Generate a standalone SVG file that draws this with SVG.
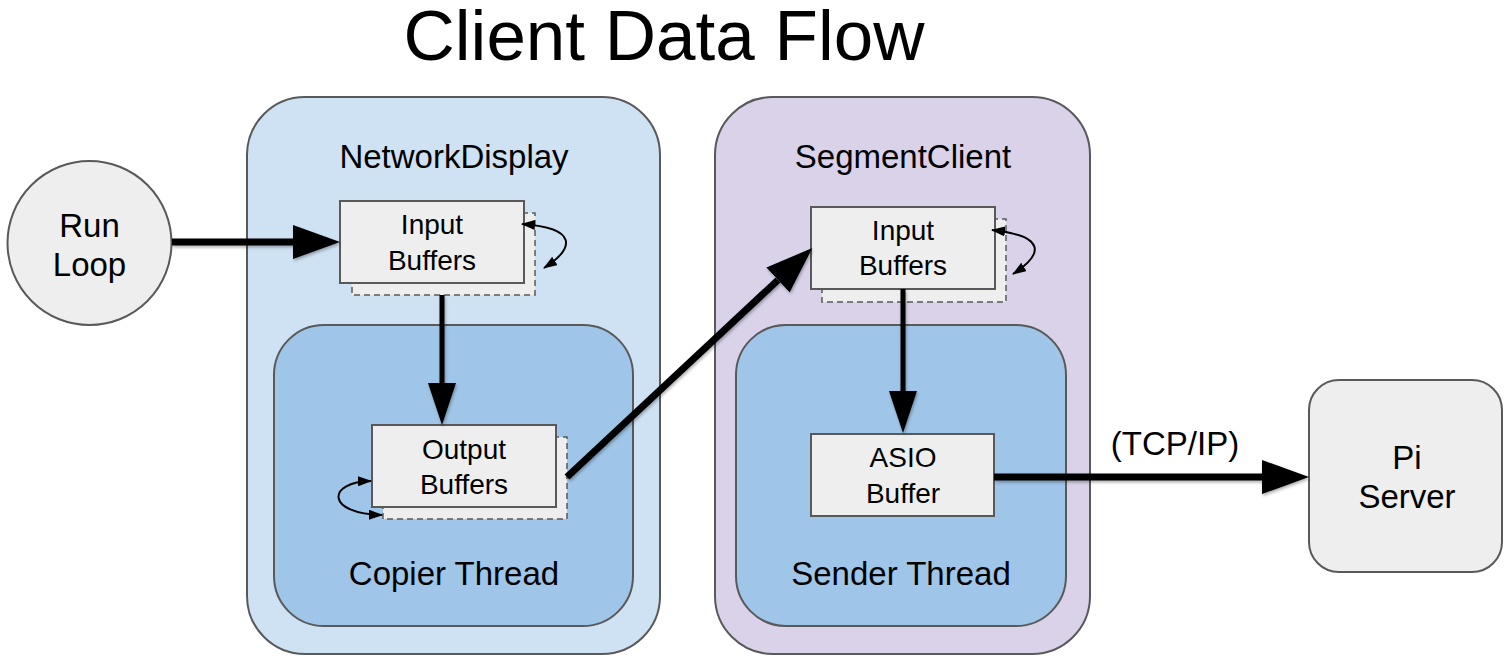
<svg xmlns="http://www.w3.org/2000/svg" width="1506" height="660" viewBox="0 0 1506 660">
  <style>
    text { font-family: "Liberation Sans", Arial, sans-serif; fill: #000; text-anchor: middle; }
    .title { font-size: 71px; }
    .lbl { font-size: 33px; }
    .box-lbl { font-size: 28px; }
    .outer-nd { fill: #cfe2f3; stroke: #595959; stroke-width: 2; }
    .outer-sc { fill: #d9d2e9; stroke: #595959; stroke-width: 2; }
    .inner { fill: #9fc5e8; stroke: #595959; stroke-width: 2; }
    .box { fill: #eeeeee; stroke: #595959; stroke-width: 2; }
    .shadow-box { fill: #eeeeee; stroke: #595959; stroke-width: 1.5; stroke-dasharray: 6 4; }
    .thick { stroke: #000; stroke-width: 7; fill: none; }
    .mid { stroke: #000; stroke-width: 5; fill: none; }
    .thin { stroke: #000; stroke-width: 2; fill: none; }
  </style>
  <defs>
    <marker id="bigHead" markerUnits="userSpaceOnUse" markerWidth="47" markerHeight="34" viewBox="0 0 47 34" refX="0" refY="17" orient="auto">
      <path d="M0,0 L47,17 L0,34 z" fill="#000"/>
    </marker>
    <marker id="midHead" markerUnits="userSpaceOnUse" markerWidth="42" markerHeight="28" viewBox="0 0 42 28" refX="0" refY="14" orient="auto">
      <path d="M0,0 L42,14 L0,28 z" fill="#000"/>
    </marker>
    <marker id="smallHead" markerUnits="userSpaceOnUse" markerWidth="14" markerHeight="10" viewBox="0 0 14 10" refX="13" refY="5" orient="auto-start-reverse">
      <path d="M0,0 L14,5 L0,10 z" fill="#000"/>
    </marker>
    <filter id="sh" filterUnits="userSpaceOnUse" x="0" y="0" width="1506" height="660">
      <feDropShadow dx="1" dy="2" stdDeviation="1.5" flood-color="#000" flood-opacity="0.3"/>
    </filter>
  </defs>

  <text class="title" x="664" y="60">Client Data Flow</text>

  <g id="network-display">
    <rect class="outer-nd" x="247" y="97" width="413" height="557" rx="58" ry="58"/>
    <text class="lbl" x="454" y="168">NetworkDisplay</text>
  </g>
  <g id="copier-thread">
    <rect class="inner" x="274" y="325" width="359" height="301" rx="50" ry="50"/>
    <text class="lbl" x="454" y="585">Copier Thread</text>
  </g>

  <g id="segment-client">
    <rect class="outer-sc" x="715" y="97" width="375" height="557" rx="58" ry="58"/>
    <text class="lbl" x="903" y="168">SegmentClient</text>
  </g>
  <g id="sender-thread">
    <rect class="inner" x="736" y="325" width="330" height="301" rx="50" ry="50"/>
    <text class="lbl" x="901" y="585">Sender Thread</text>
  </g>

  <g id="run-loop">
    <circle cx="89.5" cy="243" r="82" fill="#eeeeee" stroke="#595959" stroke-width="2"/>
    <text class="lbl" x="89.5" y="237">Run</text>
    <text class="lbl" x="89.5" y="276">Loop</text>
  </g>

  <g id="nd-input-buffers">
    <rect class="shadow-box" x="352" y="213" width="183" height="82"/>
    <rect class="box" x="340" y="201" width="184" height="82"/>
    <text class="box-lbl" x="432" y="234">Input</text>
    <text class="box-lbl" x="432" y="270">Buffers</text>
  </g>

  <g id="nd-output-buffers">
    <rect class="shadow-box" x="383" y="437" width="184" height="82"/>
    <rect class="box" x="372" y="425" width="184" height="82"/>
    <text class="box-lbl" x="464" y="459">Output</text>
    <text class="box-lbl" x="464" y="494">Buffers</text>
  </g>

  <g id="sc-input-buffers">
    <rect class="shadow-box" x="822" y="219" width="184" height="83"/>
    <rect class="box" x="811" y="207" width="184" height="82"/>
    <text class="box-lbl" x="903" y="240">Input</text>
    <text class="box-lbl" x="903" y="275">Buffers</text>
  </g>

  <g id="asio-buffer">
    <rect class="box" x="811" y="434" width="183" height="82"/>
    <text class="box-lbl" x="903" y="467">ASIO</text>
    <text class="box-lbl" x="903" y="503">Buffer</text>
  </g>

  <g id="pi-server">
    <rect class="box" x="1309" y="380" width="193" height="192" rx="30" ry="30"/>
    <text class="lbl" x="1407" y="469">Pi</text>
    <text class="lbl" x="1407" y="508">Server</text>
  </g>

  <g id="connectors">
    <line class="thick" filter="url(#sh)" x1="172" y1="242" x2="293" y2="242" marker-end="url(#bigHead)"/>
    <line class="mid" filter="url(#sh)" x1="442" y1="295" x2="442" y2="383" marker-end="url(#midHead)"/>
    <line class="thick" filter="url(#sh)" x1="567" y1="477" x2="778" y2="280" marker-end="url(#bigHead)"/>
    <line class="mid" filter="url(#sh)" x1="903" y1="289" x2="903" y2="391" marker-end="url(#midHead)"/>
    <line class="thick" filter="url(#sh)" x1="994" y1="477" x2="1262" y2="477" marker-end="url(#bigHead)"/>
    <path class="thin" d="M522 224 C578 228 575 248 544 268" marker-start="url(#smallHead)" marker-end="url(#smallHead)"/>
    <path class="thin" d="M992 230 C1046 236 1044 254 1013 274" marker-start="url(#smallHead)" marker-end="url(#smallHead)"/>
    <path class="thin" d="M371 481 C326 482 326 514 382 515" marker-start="url(#smallHead)" marker-end="url(#smallHead)"/>
    <text class="lbl" x="1175" y="455">(TCP/IP)</text>
  </g>
</svg>
